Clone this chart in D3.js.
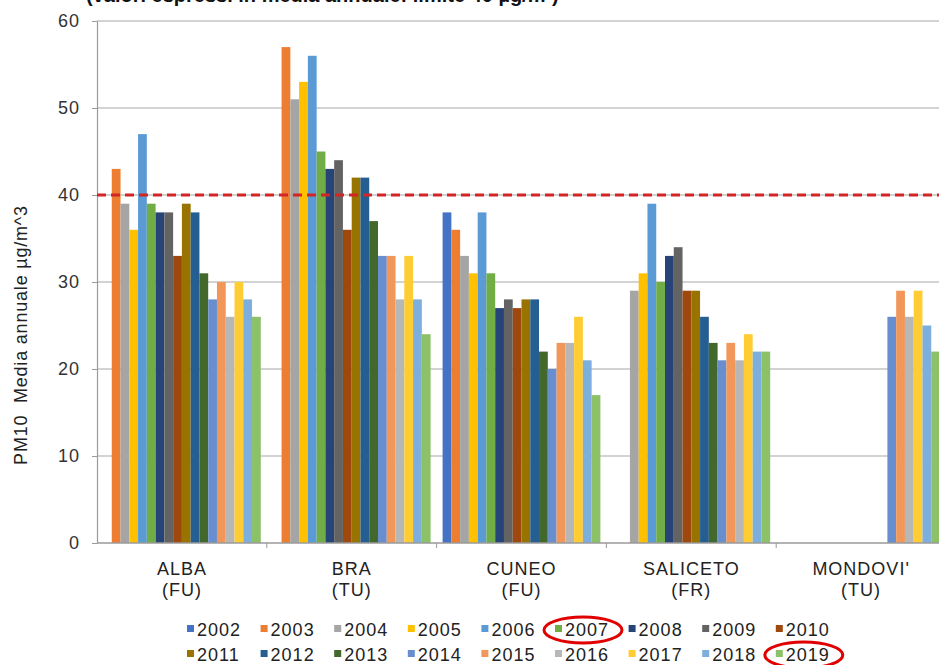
<!DOCTYPE html>
<html>
<head>
<meta charset="utf-8">
<script src="https://cdn.jsdelivr.net/npm/d3@7"></script>
<style>
  body { margin: 0; background: #fff; }
  svg { display: block; font-family: "Liberation Sans", Arial, sans-serif; }
</style>
</head>
<body>
<svg width="939" height="665"></svg>
<script>
const width = 939, height = 665;
const svg = d3.select("svg");

const stations = ["ALBA", "BRA", "CUNEO", "SALICETO", "MONDOVI'"];
const stationTypes = ["(FU)", "(TU)", "(FU)", "(FR)", "(TU)"];
const years = ["2002", "2003", "2004", "2005", "2006", "2007", "2008", "2009", "2010",
               "2011", "2012", "2013", "2014", "2015", "2016", "2017", "2018", "2019"];
const alba     = [null, 43, 39, 36, 47, 39, 38, 38, 33, 39, 38, 31, 28, 30, 26, 30, 28, 26];
const bra      = [null, 57, 51, 53, 56, 45, 43, 44, 36, 42, 42, 37, 33, 33, 28, 33, 28, 24];
const cuneo    = [38, 36, 33, 31, 38, 31, 27, 28, 27, 28, 28, 22, 20, 23, 23, 26, 21, 17];
const saliceto = [null, null, 29, 31, 39, 30, 33, 34, 29, 29, 26, 23, 21, 23, 21, 24, 22, 22];
const mondovi  = [null, null, null, null, null, null, null, null, null, null, null, null, 26, 29, 26, 29, 25, 22];
const limitValue = 40;
const yTicks = [0, 10, 20, 30, 40, 50, 60];
const yearColors = ["#4472c4", "#ed7d31", "#a5a5a5", "#ffc000", "#5b9bd5", "#70ad47",
                    "#264478", "#636363", "#9e480e", "#997300", "#255e91", "#43682b",
                    "#698ed0", "#f1975a", "#b7b7b7", "#ffcd33", "#7cafdd", "#8cc168"];
const circledYears = ["2007", "2019"];

const series = [alba, bra, cuneo, saliceto, mondovi];

// scales
const left = 97, bandW = 169.8;
const xScale = d3.scaleBand()
    .domain(stations)
    .range([left, left + bandW * stations.length]);

const xYear = d3.scaleBand()
    .domain(years)
    .range([6, bandW - 6]);

const yScale = d3.scaleLinear()
    .domain([0, 60])
    .range([543, 21]);

const color = d3.scaleOrdinal().domain(years).range(yearColors);

// clipped title at the very top (only its lower part shows)
svg.append("text")
    .attr("x", 86)
    .attr("y", 2)
    .style("font-size", "20px")
    .style("font-weight", "bold")
    .style("fill", "#111")
    .text("(valori espressi in media annuale: limite 40 µg/m³)");

// gridlines
svg.append("g")
    .selectAll("line")
    .data(yTicks.filter(d => d > 0))
    .enter().append("line")
    .attr("x1", left)
    .attr("x2", width)
    .attr("y1", d => yScale(d))
    .attr("y2", d => yScale(d))
    .attr("stroke", "#c4c4c4")
    .attr("stroke-width", 1.5);

// y axis
const yAxis = svg.append("g")
    .attr("transform", `translate(${left},0)`)
    .call(d3.axisLeft(yScale).tickValues(yTicks).tickSize(5).tickPadding(12).tickSizeOuter(0));
yAxis.select(".domain").attr("stroke", "#9a9a9a").attr("stroke-width", 1.2);
yAxis.selectAll(".tick line").attr("stroke", "#9a9a9a");
yAxis.selectAll(".tick text")
    .style("font-size", "18px")
    .style("letter-spacing", "1px")
    .style("fill", "#333");

svg.append("text")
    .attr("transform", "rotate(-90)")
    .attr("x", -335)
    .attr("y", 27)
    .attr("text-anchor", "middle")
    .style("font-size", "18px")
    .style("letter-spacing", "0.8px")
    .style("fill", "#222")
    .style("white-space", "pre")
    .text("PM10  Media annuale µg/m^3");

// bars
const groups = svg.selectAll(".station")
    .data(stations)
    .enter().append("g")
    .attr("class", "station")
    .attr("transform", d => `translate(${xScale(d)},0)`);

groups.selectAll("rect")
    .data((d, i) => years.map((y, j) => ({ year: y, value: series[i][j] })).filter(e => e.value != null))
    .enter().append("rect")
    .attr("x", d => xYear(d.year))
    .attr("y", d => yScale(d.value))
    .attr("width", xYear.bandwidth())
    .attr("height", d => yScale(0) - yScale(d.value))
    .attr("fill", d => color(d.year));

// x axis
const xAxis = svg.append("g")
    .attr("transform", `translate(0,${yScale(0)})`);
xAxis.append("line")
    .attr("x1", left)
    .attr("x2", width)
    .attr("stroke", "#9a9a9a")
    .attr("stroke-width", 1.5);
xAxis.selectAll(".xtick")
    .data(stations)
    .enter().append("line")
    .attr("class", "xtick")
    .attr("x1", d => xScale(d) + bandW)
    .attr("x2", d => xScale(d) + bandW)
    .attr("y1", 0)
    .attr("y2", 5)
    .attr("stroke", "#9a9a9a");

const labels = svg.selectAll(".xlabel")
    .data(stations)
    .enter().append("text")
    .attr("class", "xlabel")
    .attr("text-anchor", "middle")
    .style("font-size", "18px")
    .style("letter-spacing", "1px")
    .style("fill", "#222");
labels.append("tspan")
    .attr("x", d => xScale(d) + bandW / 2)
    .attr("y", 575)
    .text(d => d);
labels.append("tspan")
    .attr("x", d => xScale(d) + bandW / 2)
    .attr("y", 596)
    .text((d, i) => stationTypes[i]);

// limit line at 40
svg.append("line")
    .attr("x1", left)
    .attr("x2", width)
    .attr("y1", yScale(limitValue))
    .attr("y2", yScale(limitValue))
    .attr("stroke", "#d42424")
    .attr("stroke-width", 3)
    .attr("stroke-dasharray", "9,5");

// legend: two rows of nine
const legend = svg.append("g");
const item = legend.selectAll(".item")
    .data(years)
    .enter().append("g")
    .attr("class", "item")
    .attr("transform", (d, i) => `translate(${187 + (i % 9) * 73.6},${i < 9 ? 630 : 655})`);

item.append("rect")
    .attr("x", 0)
    .attr("y", -5)
    .attr("width", 7)
    .attr("height", 7)
    .attr("fill", d => color(d));

item.append("text")
    .attr("x", 10)
    .attr("y", 6)
    .style("font-size", "18px")
    .style("letter-spacing", "1px")
    .style("fill", "#222")
    .text(d => d);

// red hand-drawn circles around two legend entries
item.filter(d => circledYears.includes(d))
    .append("ellipse")
    .attr("cx", 28)
    .attr("cy", 0)
    .attr("rx", 39)
    .attr("ry", 13)
    .attr("fill", "none")
    .attr("stroke", "#e00000")
    .attr("stroke-width", 3);
</script>
</body>
</html>
